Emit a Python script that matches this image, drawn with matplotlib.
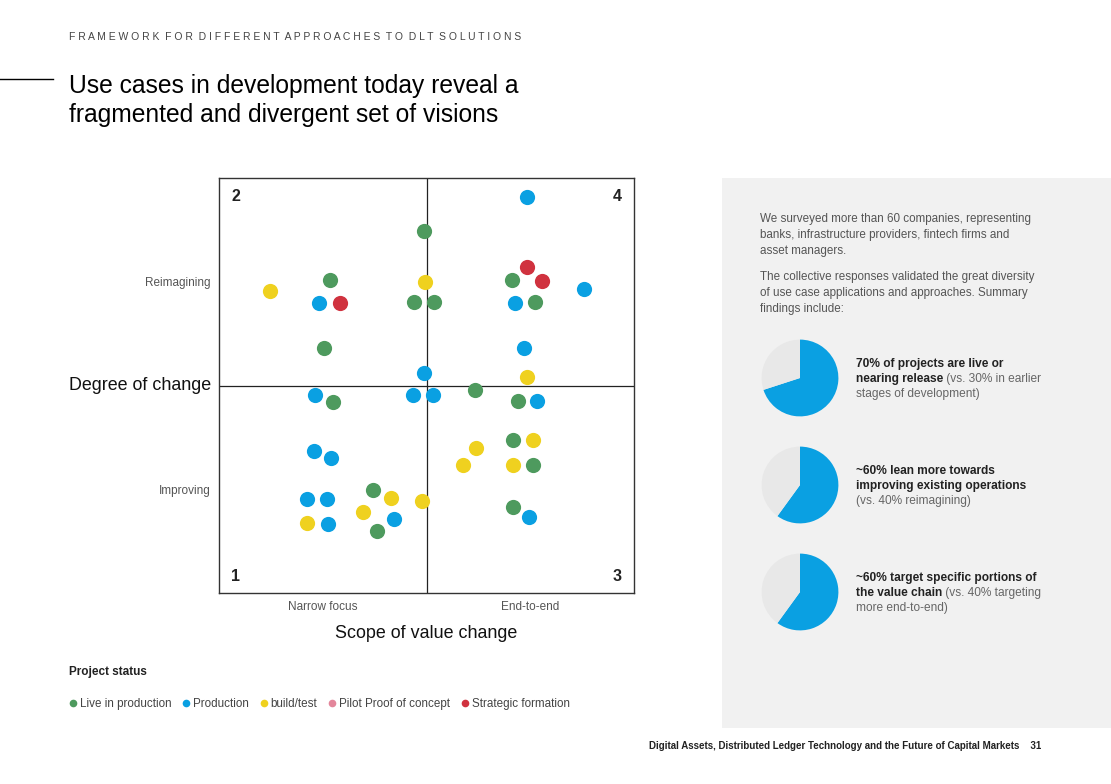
import matplotlib
matplotlib.use("Agg")
import matplotlib.pyplot as plt
from matplotlib.patches import Rectangle
from matplotlib.lines import Line2D

plt.rcParams['font.family'] = ['Liberation Sans', 'DejaVu Sans']

W, H = 1111, 784

# scatter data, grid units 0..10 on both axes (5 = centre lines)
live_x = [4.94, 2.67, 4.70, 5.18, 7.06, 7.61, 2.54, 2.75, 6.17, 7.20, 7.09, 7.56, 3.72, 3.80, 7.09]
live_y = [8.72, 7.55, 7.01, 7.01, 7.55, 7.01, 5.90, 4.60, 4.89, 4.63, 3.68, 3.09, 2.48, 1.50, 2.07]
prod_x = [7.43, 2.40, 8.80, 7.14, 7.34, 4.94, 2.31, 4.68, 5.16, 7.66, 2.30, 2.71, 2.13, 2.61, 2.63, 4.21, 7.48]
prod_y = [9.55, 6.99, 7.33, 6.99, 5.91, 5.29, 4.77, 4.77, 4.77, 4.63, 3.41, 3.25, 2.27, 2.27, 1.66, 1.78, 1.84]
build_x = [1.24, 4.96, 7.41, 7.56, 6.19, 5.88, 7.08, 4.14, 4.90, 2.13, 3.48]
build_y = [7.28, 7.50, 5.20, 3.68, 3.49, 3.08, 3.09, 2.29, 2.22, 1.68, 1.95]
pilot_x = []
pilot_y = []
strat_x = [2.91, 7.43, 7.78]
strat_y = [6.99, 7.86, 7.53]

status_labels = ["Live in production", "Production", "build/test",
                 "Pilot Proof of concept", "Strategic formation"]
status_colors = ["#4e9a5e", "#0aa0e2", "#efd11f", "#e3869b", "#d0323f"]

x_ticks = [2.5, 7.5]
x_ticklabels = ["Narrow focus", "End-to-end"]
y_ticks = [2.5, 7.5]
y_ticklabels = ["Improving", "Reimagining"]

pie_values = [[70, 30], [60, 40], [60, 40]]
pie_texts = [
    [[("70% of projects are live or", "bold")],
     [("nearing release", "bold"), (" (vs. 30% in earlier", "normal")],
     [("stages of development)", "normal")]],
    [[("~60% lean more towards", "bold")],
     [("improving existing operations", "bold")],
     [("(vs. 40% reimagining)", "normal")]],
    [[("~60% target specific portions of", "bold")],
     [("the value chain", "bold"), (" (vs. 40% targeting", "normal")],
     [("more end-to-end)", "normal")]],
]


def fx(px):
    return px / W


def fy(py):
    return 1 - py / H


fig = plt.figure(figsize=(W / 100, H / 100), dpi=100)
fig.patch.set_facecolor("white")
renderer = fig.canvas.get_renderer()

# grey side panel (behind the pie axes)
fig.patches.append(Rectangle((fx(722), fy(728)), (W - 722) / W, (728 - 178) / H,
                             transform=fig.transFigure, facecolor="#f1f1f1",
                             edgecolor="none", zorder=-1))

# header
fig.text(fx(69), fy(37), "F R A M E W O R K   F O R   D I F F E R E N T   A P P R O A C H E S   T O   D L T   S O L U T I O N S".replace("   ", "  "),
         fontsize=7.45, color="#444444", va="center", ha="left")
fig.add_artist(Line2D([0, fx(53)], [fy(79), fy(79)], color="black", lw=1.0))
fig.text(fx(69), fy(86), "Use cases in development today reveal a", fontsize=17.7,
         color="black", va="center")
fig.text(fx(69), fy(115), "fragmented and divergent set of visions", fontsize=17.7,
         color="black", va="center")

# main quadrant chart
ax = fig.add_axes([fx(219), fy(593), 415 / W, 415 / H])
series = [(live_x, live_y), (prod_x, prod_y), (build_x, build_y),
          (pilot_x, pilot_y), (strat_x, strat_y)]
for (xs, ys), c, lab in zip(series, status_colors, status_labels):
    ax.scatter(xs, ys, s=120, color=c, linewidths=0, zorder=3, label=lab)
ax.set_xlim(0, 10)
ax.set_ylim(0, 10)
ax.axvline(5, color="#222222", lw=0.9, zorder=1)
ax.axhline(5, color="#222222", lw=0.9, zorder=1)
for sp in ax.spines.values():
    sp.set_color("#333333")
    sp.set_linewidth(1.0)
ax.set_xticks(x_ticks)
ax.set_xticklabels(x_ticklabels, fontsize=8.5, color="#555555")
ax.set_yticks(y_ticks)
ax.set_yticklabels(y_ticklabels, fontsize=8.5, color="#555555")
ax.tick_params(length=0, pad=6)
for txt, (qx, qy) in zip(["2", "4", "1", "3"],
                         [(0.04, 0.955), (0.96, 0.955), (0.04, 0.04), (0.96, 0.04)]):
    ax.text(qx, qy, txt, transform=ax.transAxes, fontsize=11.5, fontweight="bold",
            color="#222222", ha="center", va="center")

fig.text(fx(69), fy(386), "Degree of change", fontsize=12.9, color="#111111",
         va="center", ha="left")
fig.text(fx(426), fy(634), "Scope of value change", fontsize=12.9, color="#111111",
         va="center", ha="center")

# legend
fig.text(fx(69), fy(672), "Project status", fontsize=8.5, fontweight="bold",
         color="#222222", va="center")
handles = [Line2D([], [], marker="o", ls="", markersize=5.5, markerfacecolor=c,
                  markeredgewidth=0) for c in status_colors]
fig.legend(handles, status_labels, loc="center left",
           bbox_to_anchor=(fx(59), fy(704)), ncol=5, frameon=False,
           fontsize=8.4, handlelength=0.6, handletextpad=0.3, columnspacing=0.95,
           labelcolor="#444444")

# side panel text
intro = [
    (219, "We surveyed more than 60 companies, representing"),
    (235, "banks, infrastructure providers, fintech firms and"),
    (251, "asset managers."),
    (277, "The collective responses validated the great diversity"),
    (293, "of use case applications and approaches. Summary"),
    (309, "findings include:"),
]
for py, t in intro:
    fig.text(fx(760), fy(py), t, fontsize=8.4, color="#555555", va="center")

pie_centres = [378, 485, 592]
line_offsets = [-15, 0, 15]
for vals, cy, lines in zip(pie_values, pie_centres, pie_texts):
    pax = fig.add_axes([fx(800 - 48), fy(cy + 48), 96 / W, 96 / H])
    pax.pie(vals, colors=["#0aa0e2", "#e8e8e8"], startangle=90, counterclock=False,
            wedgeprops=dict(linewidth=0))
    pax.set_aspect("equal")
    for off, parts in zip(line_offsets, lines):
        x = fx(856)
        for t, w in parts:
            col = "#222222" if w == "bold" else "#666666"
            tt = fig.text(x, fy(cy + off + 1), t, fontsize=8.6, fontweight=w, color=col,
                          va="center", ha="left")
            bb = tt.get_window_extent(renderer)
            x += bb.width / W

# footer
fig.text(fx(1041), fy(746),
         "Digital Assets, Distributed Ledger Technology and the Future of Capital Markets    31",
         fontsize=7.0, fontweight="bold", color="#222222", ha="right", va="center")

fig.savefig("out.png", dpi=100, facecolor="white")
